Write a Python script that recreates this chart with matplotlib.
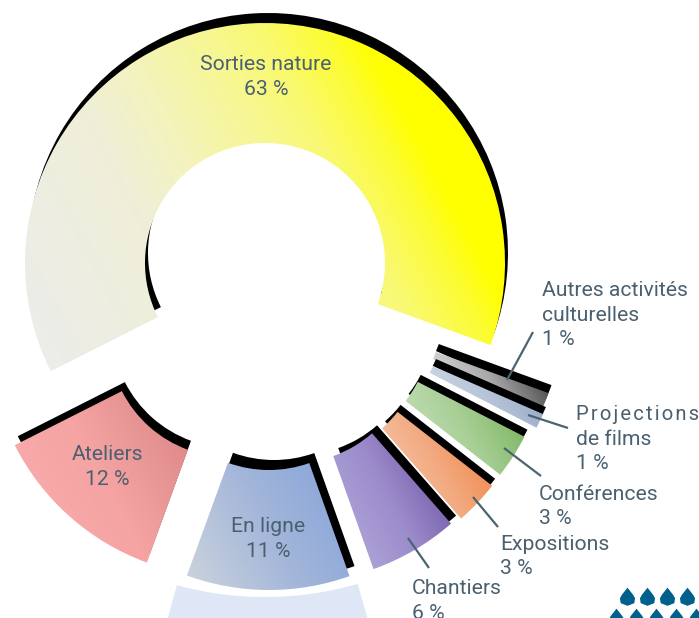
import numpy as np
import matplotlib
matplotlib.use('Agg')
import matplotlib.pyplot as plt
from matplotlib.colors import LinearSegmentedColormap
from matplotlib.patches import Wedge
from matplotlib.path import Path

plt.rcParams['font.family'] = ['Roboto', 'DejaVu Sans']

# Data, clockwise from the right hand end of the big slice
names = ['Autres activités\nculturelles', 'Projections\nde films', 'Conférences',
         'Expositions', 'Chantiers', 'En ligne', 'Ateliers', 'Sorties nature']
shares = [1, 1, 3, 3, 6, 11, 12, 63]

# Layout in reference pixels (y down)
W, H = 699, 618
CX, CY = 265, 263
RADIUS = 240
RING = 120
TEXT_COL = '#4a6070'
LINE_COL = '#4a6572'

# how far each slice is pulled away from the ring, right and down
pulls = [(58, 48), (58, 55), (46, 64), (38, 75), (28, 80), (4, 87), (-36, 74), (0, 0)]
# black copy behind each slice, right and up
shadows = [(3, 8), (3, 7), (3, 7), (3, 7), (5, 8), (5, 10), (3, 9), (3, 10)]

ramps = [
    ['#e8e8e8', '#a8a8a8', '#303030'],
    ['#d4dbe8', '#b8c4d8', '#8fa3c4'],
    ['#cfe3c2', '#a8cf96', '#6fae52'],
    ['#f2d2b8', '#f3aa80', '#f07a38'],
    ['#b8b0de', '#9b8bcb', '#64469a'],
    ['#ccd3dc', '#a3b6da', '#84a2d8'],
    ['#fbaeae', '#f5a3a3', '#d98484'],
    [(0, '#ececec'), (0.3, '#efefd8'), (0.4, '#f3f3c0'), (0.55, '#f7f790'),
     (0.63, '#f9f970'), (0.72, '#fcfc35'), (0.78, '#ffff00'), (1, '#ffff00')],
]

# text anchor (left or centre x, top line y), line tip, line start
label_pos = {
    'Autres activités\nculturelles': (542, 291, 'left', (507, 380), (533, 332)),
    'Projections\nde films': (576, 415, 'left', (528, 415), (568, 428)),
    'Conférences': (539, 494, 'left', (504, 448), (541, 476)),
    'Expositions': (500, 544, 'left', (473, 497), (498, 527)),
    'Chantiers': (412, 589, 'left', (408, 538), (429, 568)),
    'En ligne': (268, 527, 'center', None, None),
    'Ateliers': (107, 455, 'center', None, None),
    'Sorties nature': (266, 65, 'center', None, None),
}

drops_top = [627, 647, 667, 687]
drops_bottom = [616, 636, 656, 676, 696]


def up(y):
    return H - y


def gradient(wedge, colours, tilt=28):
    # colour ramp running left to right, leaning a little, clipped to the slice
    box = wedge.get_path().get_extents(wedge.get_patch_transform())
    xs, ys = np.meshgrid(np.linspace(box.x0, box.x1, 200), np.linspace(box.y0, box.y1, 200))
    a = np.radians(tilt)
    t = xs * np.cos(a) + ys * np.sin(a)
    t = (t - t.min()) / (t.max() - t.min())
    cmap = LinearSegmentedColormap.from_list('ramp', colours)
    im = ax.imshow(t, cmap=cmap, origin='lower', extent=(box.x0, box.x1, box.y0, box.y1),
                   zorder=wedge.get_zorder(), aspect='equal', interpolation='bilinear')
    im.set_clip_path(wedge)


fig = plt.figure(figsize=(W / 100, H / 100), dpi=100)
ax = fig.add_axes([0, 0, 1, 1])

wedges, _ = ax.pie(shares, startangle=-20, counterclock=False,
                   center=(CX, up(CY)), radius=RADIUS, normalize=True,
                   wedgeprops={'width': RING, 'facecolor': 'none', 'edgecolor': 'none'})

for i, (w, colours) in enumerate(zip(wedges, ramps)):
    z = 2 + i * 2
    w.set_center((CX + pulls[i][0], up(CY + pulls[i][1])))
    shade = Wedge((w.center[0] + shadows[i][0], w.center[1] + shadows[i][1]), w.r, w.theta1, w.theta2,
                  width=w.width, facecolor='black', edgecolor='none', zorder=z)
    ax.add_patch(shade)
    w.set_zorder(z + 1)
    gradient(w, colours)

# pale block cut off by the bottom edge
ax.add_patch(Wedge((CX, up(CY)), 420, -105.3, -73.9, width=86, facecolor='#dfe6f5',
                   edgecolor='none', zorder=1))

for name, share in zip(names, shares):
    x, y, ha, tip, start = label_pos[name]
    lines = name.split('\n') + [f'{share} %']
    for j, line in enumerate(lines):
        # this one word is letter spaced in the original
        spaced = line == 'Projections'
        shown = '\u200a'.join(line) if spaced else line
        ax.text(x, up(y + j * 24.2), shown, ha=ha, va='center', fontsize=14.6 if spaced else 15.2,
                color=TEXT_COL, zorder=40)
    if tip:
        ax.plot([start[0], tip[0]], [up(start[1]), up(tip[1])], color=LINE_COL, lw=1.6,
                solid_capstyle='butt', zorder=39)

drop = Path([(0, 1.3), (0.75, 0.35), (1.0, -0.1), (0.9, -0.75), (0, -1.1), (-0.9, -0.75),
             (-1.0, -0.1), (-0.75, 0.35), (0, 1.3)])
ax.scatter(drops_top, [up(597)] * len(drops_top), marker=drop, s=200, color='#00608c', linewidths=0, zorder=5)
ax.scatter(drops_bottom, [up(618)] * len(drops_bottom), marker=drop, s=200, color='#00608c', linewidths=0, zorder=5)

ax.set_xlim(0, W)
ax.set_ylim(0, H)
ax.set_aspect('equal')
ax.axis('off')
fig.savefig('out.png', dpi=100)
